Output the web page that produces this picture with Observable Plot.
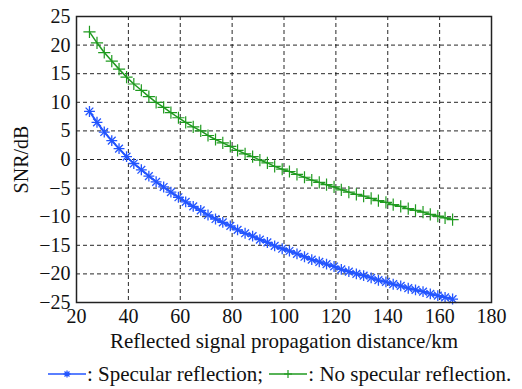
<!DOCTYPE html>
<html>
<head>
<meta charset="utf-8">
<script src="https://cdn.jsdelivr.net/npm/d3@7"></script>
<script src="https://cdn.jsdelivr.net/npm/@observablehq/plot@0.6"></script>
<style>
  html, body { margin: 0; padding: 0; background: #fff; }
  body { width: 522px; height: 389px; overflow: hidden; font-family: "Times New Roman", Times, "Liberation Serif", Tinos, "DejaVu Serif", serif; }
  #legend { position: absolute; left: 47px; top: 362px; height: 24px; display: flex; align-items: center; justify-content: flex-start; font-size: 21px; color: #111; white-space: nowrap; }
  #legend svg { vertical-align: middle; }
</style>
</head>
<body>
<div id="chart"></div>
<div id="legend"></div>
<script>
// distances (km)
const distance = [25, 27.9, 30.7, 33.6, 36.4, 39.3, 42.1, 45, 47.9, 50.7, 53.6, 56.4, 59.3, 62.1, 65, 67.9, 70.7, 73.6, 76.4, 79.3, 82.1, 85, 87.9, 90.7, 93.6, 96.4, 99.3, 102.1, 105, 107.9, 110.7, 113.6, 116.4, 119.3, 122.1, 125, 127.9, 130.7, 133.6, 136.4, 139.3, 142.1, 145, 147.9, 150.7, 153.6, 156.4, 159.3, 162.1, 165];
// SNR (dB), no specular reflection
const snrNoSpecular = [22.3, 20.4, 18.7, 17.2, 15.8, 14.4, 13.2, 12.1, 11.0, 10.0, 9.1, 8.2, 7.3, 6.5, 5.7, 5.0, 4.2, 3.5, 2.9, 2.3, 1.6, 1.0, 0.5, -0.1, -0.6, -1.2, -1.7, -2.1, -2.6, -3.1, -3.6, -4.0, -4.4, -4.8, -5.3, -5.7, -6.1, -6.4, -6.8, -7.2, -7.5, -7.9, -8.2, -8.6, -8.9, -9.2, -9.6, -9.9, -10.2, -10.5];
// SNR (dB), specular reflection
const snrSpecular = [8.4, 6.5, 4.8, 3.3, 1.9, 0.5, -0.7, -1.8, -2.9, -3.9, -4.8, -5.7, -6.6, -7.4, -8.2, -8.9, -9.7, -10.4, -11.0, -11.6, -12.3, -12.9, -13.4, -14.0, -14.5, -15.1, -15.6, -16.0, -16.5, -17.0, -17.5, -17.9, -18.3, -18.7, -19.2, -19.6, -20.0, -20.3, -20.7, -21.1, -21.4, -21.8, -22.1, -22.5, -22.8, -23.1, -23.5, -23.8, -24.1, -24.4];
const xTicks = [20, 40, 60, 80, 100, 120, 140, 160, 180];
const yTicks = [-25, -20, -15, -10, -5, 0, 5, 10, 15, 20, 25];
const seriesNames = ["Specular reflection", "No specular reflection"];

const blue = "#2355ff";
const green = "#1f9a1f";
const serif = "'Times New Roman', Times, 'Liberation Serif', Tinos, 'DejaVu Serif', serif";

const spec = distance.map((d, i) => ({d, v: snrSpecular[i]}));
const nospec = distance.map((d, i) => ({d, v: snrNoSpecular[i]}));

const chart = Plot.plot({
  width: 522,
  height: 360,
  marginLeft: 76,
  marginRight: 31,
  marginTop: 16,
  marginBottom: 58,
  style: {fontFamily: serif, fontSize: "20px", color: "#111", background: "#fff"},
  x: {domain: [20, 180], ticks: xTicks},
  y: {domain: [-25, 25], ticks: yTicks},
  marks: [
    Plot.gridX(xTicks.slice(1, -1), {stroke: "#000", strokeOpacity: 0.85, strokeWidth: 1, strokeDasharray: "4,3"}),
    Plot.gridY(yTicks.slice(1, -1), {stroke: "#000", strokeOpacity: 0.85, strokeWidth: 1, strokeDasharray: "4,3"}),
    Plot.axisX({ticks: xTicks, tickSize: 0, tickPadding: 6, fontSize: 20, label: null}),
    Plot.axisX({ticks: [], tickSize: 0, fontSize: 21, label: "Reflected signal propagation distance/km", labelAnchor: "center", labelArrow: "none", labelOffset: 45}),
    Plot.axisY({ticks: yTicks, tickSize: 0, tickPadding: 6, fontSize: 20, label: "SNR/dB", labelAnchor: "center", labelArrow: "none", labelOffset: 63}),
    Plot.line(nospec, {x: "d", y: "v", stroke: green, strokeWidth: 1.5}),
    Plot.dot(nospec, {x: "d", y: "v", symbol: "plus", r: 4, stroke: green, strokeWidth: 1.2}),
    Plot.line(spec, {x: "d", y: "v", stroke: blue, strokeWidth: 2}),
    Plot.dot(spec, {x: "d", y: "v", symbol: "plus", r: 3.6, stroke: blue, strokeWidth: 1.3}),
    Plot.dot(spec, {x: "d", y: "v", symbol: "times", r: 3.6, stroke: blue, strokeWidth: 1.3}),
    Plot.frame({stroke: "#222", strokeWidth: 1.5})
  ]
});
document.getElementById("chart").appendChild(chart);

function icon(color, kind) {
  const ns = "http://www.w3.org/2000/svg";
  const s = document.createElementNS(ns, "svg");
  s.setAttribute("width", 40); s.setAttribute("height", 14);
  let p = `<line x1="1" y1="7" x2="39" y2="7" stroke="${color}" stroke-width="1.5"/>`;
  if (kind === "star") {
    p += `<path d="M20,3.5V10.5M16.5,7H23.5M17.5,4.5L22.5,9.5M22.5,4.5L17.5,9.5" stroke="${color}" stroke-width="1.3"/>`;
  } else {
    p += `<path d="M20,3V11M16,7H24" stroke="${color}" stroke-width="1.2"/>`;
  }
  s.innerHTML = p;
  return s;
}
const lg = document.getElementById("legend");
lg.appendChild(icon(blue, "star"));
lg.appendChild(document.createTextNode(": " + seriesNames[0] + ";\u00a0 "));
lg.appendChild(icon(green, "plus"));
lg.appendChild(document.createTextNode(": " + seriesNames[1] + "."));
</script>
</body>
</html>
